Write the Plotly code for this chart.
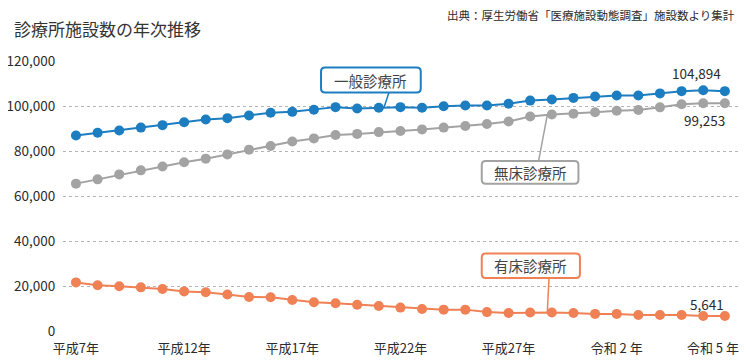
import plotly.graph_objects as go

# ---- data ----
general = [86.9, 88.1, 89.1, 90.4, 91.5, 92.8, 94.0, 94.6, 95.8, 97.0, 97.4, 98.3, 99.5, 98.9,
           99.2, 99.5, 99.2, 99.9, 100.2, 100.2, 101.0, 102.4, 102.9, 103.6, 104.2, 104.7, 104.7,
           105.6, 106.6, 107.0, 106.6]
no_bed = [65.5, 67.4, 69.6, 71.4, 73.1, 75.0, 76.6, 78.5, 80.6, 82.2, 84.2, 85.6, 87.1, 87.6,
          88.4, 88.9, 89.6, 90.4, 91.1, 92.0, 93.1, 95.3, 96.2, 96.6, 97.2, 97.9, 98.2,
          99.4, 100.8, 101.2, 101.2]
with_bed = [21.6, 20.3, 19.9, 19.4, 18.7, 17.6, 17.2, 16.2, 15.1, 15.0, 13.8, 12.8, 12.3, 11.7,
            11.1, 10.4, 9.8, 9.5, 9.5, 8.4, 8.0, 8.2, 8.2, 8.0, 7.6, 7.6, 7.1, 7.1, 7.1, 6.7, 6.7]
general = [v * 1000 for v in general]
no_bed = [v * 1000 for v in no_bed]
with_bed = [v * 1000 for v in with_bed]
x_idx = list(range(len(general)))

tick_labels = ["平成7年", "平成12年", "平成17年", "平成22年", "平成27年", "令和 2 年", "令和 5 年"]
tick_pos = [0, 5, 10, 15, 20, 25, 29.45]
y_ticks = [0, 20000, 40000, 60000, 80000, 100000, 120000]

series_names = ["一般診療所", "無床診療所", "有床診療所"]
end_labels = ["104,894", "99,253", "5,641"]
title_text = "診療所施設数の年次推移"
source_text = "出典：厚生労働省「医療施設動態調査」施設数より集計"

FONT = "Noto Sans CJK JP"
BLUE = "#1c7dc0"
GRAY = "#a3a3a3"
ORANGE = "#ef8155"
TXT = "#2b2b2b"

fig = go.Figure()
for name, vals, col in [(series_names[0], general, BLUE),
                        (series_names[1], no_bed, GRAY),
                        (series_names[2], with_bed, ORANGE)]:
    fig.add_trace(go.Scatter(x=x_idx, y=vals, mode="lines+markers", name=name,
                             line=dict(color=col, width=2),
                             marker=dict(color=col, size=10),
                             showlegend=False, hoverinfo="skip"))

# pixel helpers for callout styling
PX_X = 21.63
PX_Y = 2.25 / 1000


def rounded_rect(x0, x1, y0, y1, r=4):
    rx = r / PX_X
    ry = r / PX_Y
    return (f"M {x0+rx},{y1} L {x1-rx},{y1} Q {x1},{y1} {x1},{y1-ry} "
            f"L {x1},{y0+ry} Q {x1},{y0} {x1-rx},{y0} L {x0+rx},{y0} "
            f"Q {x0},{y0} {x0},{y0+ry} L {x0},{y1-ry} Q {x0},{y1} {x0+rx},{y1} Z")


callouts = [
    (11.33, 15.94, 106000, 117100, (14.47, 106000), (14.24, 99300), BLUE, series_names[0]),
    (18.76, 23.23, 65500, 75600, (21.39, 75600), (21.79, 96000), GRAY, series_names[1]),
    (18.76, 23.30, 23600, 34400, (21.87, 23600), (21.79, 8200), ORANGE, series_names[2]),
]
shapes = []
annotations = []
for x0, x1, y0, y1, s, e, col, txt in callouts:
    shapes.append(dict(type="line", xref="x", yref="y", x0=s[0], y0=s[1], x1=e[0], y1=e[1],
                       line=dict(color=col, width=1.5), layer="above"))
    shapes.append(dict(type="path", xref="x", yref="y", path=rounded_rect(x0, x1, y0, y1),
                       fillcolor="white", line=dict(color=col, width=2), layer="above"))
    annotations.append(dict(x=(x0 + x1) / 2, y=(y0 + y1) / 2, xref="x", yref="y", text=txt,
                            showarrow=False, font=dict(family=FONT, size=14.5, color="#444"),
                            xanchor="center", yanchor="middle"))

for (xv, yv), t in zip([(28.69, 114700), (29.08, 93600), (29.17, 12200)], end_labels):
    annotations.append(dict(x=xv, y=yv, xref="x", yref="y", text=t, showarrow=False,
                            font=dict(family=FONT, size=13.5, color=TXT),
                            xanchor="center", yanchor="middle"))

annotations.append(dict(x=-0.0753, y=1.121, xref="paper", yref="paper", text=title_text,
                        showarrow=False, xanchor="left", yanchor="middle",
                        font=dict(family=FONT, size=17, color="#333")))
annotations.append(dict(x=0.9956, y=1.169, xref="paper", yref="paper", text=source_text,
                        showarrow=False, xanchor="right", yanchor="middle",
                        font=dict(family=FONT, size=11.5, color=TXT)))

# page body adds an ~8px offset, so the figure is sized/margined to compensate
fig.update_layout(
    width=742, height=355,
    margin=dict(l=55, r=10, t=52.7, b=32.3, autoexpand=False),
    plot_bgcolor="white", paper_bgcolor="white",
    font=dict(family=FONT, size=13, color=TXT),
    shapes=shapes, annotations=annotations,
    xaxis=dict(range=[-0.6, 30.7], tickmode="array", tickvals=tick_pos, ticktext=tick_labels,
               showgrid=False, zeroline=False, showline=False, automargin=False,
               ticks="outside", ticklen=5, tickcolor="rgba(0,0,0,0)",
               tickfont=dict(family=FONT, size=13, color=TXT)),
    yaxis=dict(range=[0, 120000], tickmode="array", tickvals=y_ticks, tickformat=",",
               showgrid=True, gridcolor="#b5b5b5", gridwidth=1, griddash="dot",
               zeroline=False, showline=False, automargin=False, ticks="outside", ticklen=4,
               tickcolor="rgba(0,0,0,0)",
               tickfont=dict(family=FONT, size=13.5, color=TXT)),
)

fig.write_html("out.html")
